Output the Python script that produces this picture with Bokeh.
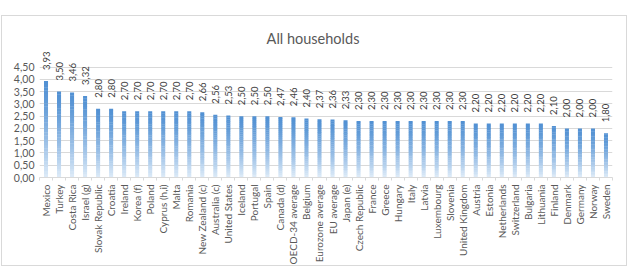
import math

from bokeh.core.properties import value
from bokeh.embed import file_html
from bokeh.models import ColumnDataSource, FixedTicker, Label, Range1d
from bokeh.plotting import figure
from bokeh.resources import INLINE

# --- data -----------------------------------------------------------------
countries = [
    "Mexico", "Turkey", "Costa Rica", "Israel (g)", "Slovak Republic", "Croatia",
    "Ireland", "Korea (f)", "Poland", "Cyprus (h,i)", "Malta", "Romania",
    "New Zealand (c)", "Australia (c)", "United States", "Iceland", "Portugal",
    "Spain", "Canada (d)", "OECD-34 average", "Belgium", "Eurozone average",
    "EU average", "Japan (e)", "Czech Republic", "France", "Greece", "Hungary",
    "Italy", "Latvia", "Luxembourg", "Slovenia", "United Kingdom", "Austria",
    "Estonia", "Netherlands", "Switzerland", "Bulgaria", "Lithuania", "Finland",
    "Denmark", "Germany", "Norway", "Sweden",
]
rates = [
    3.93, 3.50, 3.46, 3.32, 2.80, 2.80,
    2.70, 2.70, 2.70, 2.70, 2.70, 2.70,
    2.66, 2.56, 2.53, 2.50, 2.50,
    2.50, 2.47, 2.46, 2.40, 2.37,
    2.36, 2.33, 2.30, 2.30, 2.30, 2.30,
    2.30, 2.30, 2.30, 2.30, 2.30, 2.20,
    2.20, 2.20, 2.20, 2.20, 2.20, 2.10,
    2.00, 2.00, 2.00, 1.80,
]
y_ticks = [0.0, 0.5, 1.0, 1.5, 2.0, 2.5, 3.0, 3.5, 4.0, 4.5]
title_text = "All households"


def comma(v):
    return f"{v:.2f}".replace(".", ",")


n = len(countries)
idx = list(range(n))
Y_TOP = 5.95
FONT = value("Lato")
GREY = "#595959"

p = figure(
    width=626, height=251,
    x_range=Range1d(-0.5, n - 0.5), y_range=Range1d(0, Y_TOP),
    output_backend="svg", toolbar_location=None,
    min_border_left=37, min_border_right=16,
    min_border_top=15, min_border_bottom=86,
    background_fill_color="white", border_fill_color="white",
)
p.margin = (15, 0, 0, 1)
p.styles = {"border": "1px solid #d9d9d9"}
p.outline_line_color = None

# bars with a vertical blue gradient, built from stacked slices
top_rgb = (82, 145, 211)
bot_rgb = (222, 235, 248)
SLICES = 30
sx, sb, st, sc = [], [], [], []
for i, v in enumerate(rates):
    for k in range(SLICES):
        f0, f1 = k / SLICES, (k + 1) / SLICES
        t = 1 - (f0 + f1) / 2
        m = t ** 1.4
        rgb = tuple(int(round(a + (b - a) * m)) for a, b in zip(top_rgb, bot_rgb))
        sx.append(i)
        sb.append(v * f0)
        st.append(min(v, v * f1 + 0.012))
        sc.append("#%02x%02x%02x" % rgb)
bars = ColumnDataSource(dict(x=sx, bottom=sb, top=st, color=sc))
p.vbar(x="x", bottom="bottom", top="top", width=0.31, source=bars,
       fill_color="color", line_color=None)

# value labels above the bars
labels = ColumnDataSource(dict(x=idx, y=rates, text=[comma(v) for v in rates]))
p.text(x="x", y="y", text="text", source=labels, angle=math.pi / 2,
       text_align="left", text_baseline="middle", y_offset=-11,
       text_font=FONT, text_font_size="9.5px", text_color="#404040")

# title
p.add_layout(Label(x=(n - 1) / 2, y=Y_TOP - 0.3, x_offset=-13, text=title_text,
                   text_align="center", text_baseline="middle",
                   text_font="Lato", text_font_size="14.5px", text_color=GREY))

# y axis
p.yaxis.ticker = FixedTicker(ticks=y_ticks)
p.yaxis.major_label_overrides = {t: comma(t) for t in y_ticks}
p.yaxis.axis_line_color = None
p.yaxis.major_tick_line_color = None
p.yaxis.minor_tick_line_color = None
p.yaxis.major_tick_out = 0
p.yaxis.major_tick_in = 0
p.yaxis.minor_tick_out = 0
p.yaxis.major_label_standoff = 5
p.yaxis.major_label_text_font = "Lato"
p.yaxis.major_label_text_font_size = "10.5px"
p.yaxis.major_label_text_color = GREY
p.ygrid.ticker = FixedTicker(ticks=y_ticks)
p.ygrid.grid_line_color = "#d9d9d9"
p.xgrid.grid_line_color = None

# x axis with category names and boundary ticks
p.xaxis.ticker = FixedTicker(ticks=idx, minor_ticks=[i - 0.5 for i in range(n + 1)])
p.xaxis.major_label_overrides = {i: c for i, c in enumerate(countries)}
p.xaxis.major_label_orientation = math.pi / 2
p.xaxis.axis_line_color = "#d9d9d9"
p.xaxis.major_tick_line_color = None
p.xaxis.major_tick_out = 0
p.xaxis.major_tick_in = 0
p.xaxis.minor_tick_line_color = "#d9d9d9"
p.xaxis.minor_tick_out = 3
p.xaxis.minor_tick_in = 0
p.xaxis.major_label_standoff = 4
p.xaxis.major_label_text_font = "Lato"
p.xaxis.major_label_text_font_size = "10px"
p.xaxis.major_label_text_color = GREY

open("out.html", "w").write(file_html(p, INLINE))
